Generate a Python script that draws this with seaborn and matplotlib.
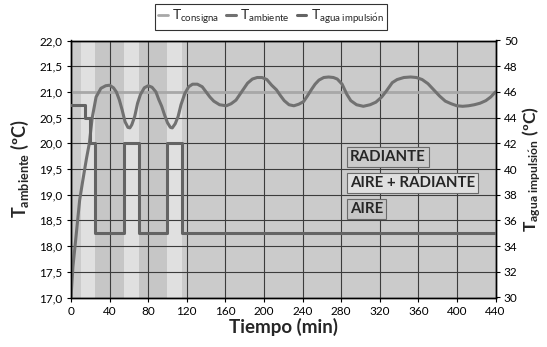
import numpy as np
import pandas as pd
import matplotlib
matplotlib.use("Agg")
import matplotlib.pyplot as plt
import seaborn as sns

# ---------------- data ----------------
t_amb = [0, 2, 5, 9, 12, 16, 19, 22, 26, 31, 36, 40, 44, 47, 50, 53, 56, 59, 61, 63,
         66, 69, 72, 76, 80, 84, 88, 91, 94, 97, 100, 103, 105, 108, 111, 114, 118, 122,
         126, 131, 136, 140, 144, 148, 154, 161, 166, 171, 175, 179, 183, 188, 193, 198,
         203, 208, 213, 217, 221, 226, 231, 236, 241, 245, 249, 253, 257, 262, 267, 272,
         276, 281, 286, 290, 296, 303, 310, 316, 322, 327, 333, 338, 345, 352, 358, 364,
         370, 376, 382, 388, 394, 400, 406, 412, 418, 424, 430, 435, 440]
T_amb = [17.0, 17.6, 18.15, 18.9, 19.25, 19.7, 20.0, 20.5, 20.9, 21.07, 21.12, 21.13,
         21.08, 21.0, 20.85, 20.65, 20.42, 20.31, 20.30, 20.36, 20.52, 20.78, 20.95, 21.08,
         21.12, 21.09, 21.0, 20.85, 20.72, 20.55, 20.4, 20.31, 20.30, 20.38, 20.52, 20.75,
         20.97, 21.1, 21.15, 21.15, 21.1, 21.0, 20.9, 20.82, 20.75, 20.73, 20.77, 20.84,
         20.95, 21.06, 21.17, 21.25, 21.28, 21.28, 21.24, 21.13, 21.04, 20.93, 20.83, 20.75,
         20.73, 20.76, 20.81, 20.92, 21.04, 21.15, 21.23, 21.28, 21.29, 21.28, 21.25, 21.15,
         20.95, 20.83, 20.75, 20.72, 20.75, 20.8, 20.9, 21.02, 21.18, 21.24, 21.28, 21.29,
         21.28, 21.24, 21.16, 21.04, 20.92, 20.82, 20.77, 20.73, 20.72, 20.73, 20.75, 20.78,
         20.83, 20.9, 21.0]

t_cons = [0, 440]
T_cons = [21.0, 21.0]

t_agua = [0, 15, 20, 25, 55, 70, 100, 115, 440]
T_agua = [45, 44, 42, 35, 42, 35, 42, 35, 35]

band_edges = [0, 10, 25, 55, 70, 100, 115, 440]
band_modes = ["RADIANTE", "AIRE + RADIANTE", "AIRE", "AIRE + RADIANTE", "AIRE",
              "AIRE + RADIANTE", "RADIANTE"]
mode_labels = ["RADIANTE", "AIRE + RADIANTE", "AIRE"]

x_ticks = list(range(0, 441, 40))
left_ticks = [17.0, 17.5, 18.0, 18.5, 19.0, 19.5, 20.0, 20.5, 21.0, 21.5, 22.0]
right_ticks = list(range(30, 51, 2))

# ---------------- style ----------------
sns.set_style("ticks")
plt.rcParams["font.family"] = ["Lato", "DejaVu Sans"]
plt.rcParams["mathtext.fontset"] = "custom"
plt.rcParams["mathtext.rm"] = "Lato"
plt.rcParams["mathtext.it"] = "Lato:italic"
plt.rcParams["mathtext.bf"] = "Lato:bold"

mode_colors = {"RADIANTE": "#cbcbcb", "AIRE + RADIANTE": "#e0e0e0", "AIRE": "#c6c6c6"}
c_cons = "#a8a8a8"
c_amb = "#717171"
c_agua = "#646464"

fig = plt.figure(figsize=(5.47, 3.47), dpi=100)
ax = fig.add_axes([71 / 547, 1 - 297.5 / 347, (495.5 - 71) / 547, (297.5 - 40.5) / 347])
ax2 = ax.twinx()

for i, m in enumerate(band_modes):
    ax.axvspan(band_edges[i], band_edges[i + 1], color=mode_colors[m], lw=0, zorder=0)

df_amb = pd.DataFrame({"t": t_amb, "T": T_amb})
df_cons = pd.DataFrame({"t": t_cons, "T": T_cons})
df_agua = pd.DataFrame({"t": t_agua, "T": T_agua})

sns.lineplot(data=df_cons, x="t", y="T", ax=ax, color=c_cons, lw=2.0, zorder=3,
             label=r"T$_{\mathrm{consigna}}$", legend=False)
sns.lineplot(data=df_amb, x="t", y="T", ax=ax, color=c_amb, lw=2.2, zorder=4,
             label=r"T$_{\mathrm{ambiente}}$", legend=False, sort=False)
sns.lineplot(data=df_agua, x="t", y="T", ax=ax2, color=c_agua, lw=2.2, zorder=4,
             drawstyle="steps-post", label=r"T$_{\mathrm{agua\ impulsi\acute{o}n}}$",
             legend=False)

ax.set_xlim(0, 440)
ax.set_ylim(17.0, 22.0)
ax2.set_ylim(30, 50)
ax.set_xticks(x_ticks)
ax.set_yticks(left_ticks)
ax2.set_yticks(right_ticks)
ax.set_yticklabels([f"{v:.1f}".replace(".", ",") for v in left_ticks])
ax2.set_yticklabels([str(v) for v in right_ticks])

ax.grid(True, color="#3c3c3c", lw=0.8, zorder=1)
ax.set_axisbelow(False)
for a in (ax, ax2):
    for s in a.spines.values():
        s.set_color("black")
        s.set_linewidth(1.0)
    a.tick_params(labelsize=8.5, length=3, width=0.8, colors="black", pad=3)

ax.set_xlabel("Tiempo (min)", fontsize=13.5, fontweight="bold", labelpad=1)
ax.set_ylabel(r"$\mathbf{T_{ambiente}}$ (ºC)", fontsize=13, fontweight="bold", labelpad=6)
ax2.set_ylabel(r"$\mathbf{T_{agua\ impulsi\acute{o}n}}$ (ºC)", fontsize=12.5,
               fontweight="bold", labelpad=2, rotation=90)

# mode labels
ypos = [19.74, 19.23, 18.72]
for lab, yv in zip(mode_labels, ypos):
    ax.text(289, yv, lab, fontsize=10.8, fontweight="bold", ha="left", va="center", zorder=6,
            bbox=dict(boxstyle="square,pad=0.2", fc=mode_colors[lab], ec="#6a6a6a", lw=0.8))

h1, l1 = ax.get_legend_handles_labels()
h2, l2 = ax2.get_legend_handles_labels()
leg = fig.legend(h1 + h2, l1 + l2, loc="upper center", bbox_to_anchor=(271 / 547, 1 - 4 / 347),
                 ncol=3, frameon=True, fancybox=False, edgecolor="black", fontsize=10,
                 handlelength=0.7, handletextpad=0.3, columnspacing=0.5, borderpad=0.25,
                 borderaxespad=0)
leg.get_frame().set_linewidth(0.8)

fig.savefig("out.png", dpi=100)
